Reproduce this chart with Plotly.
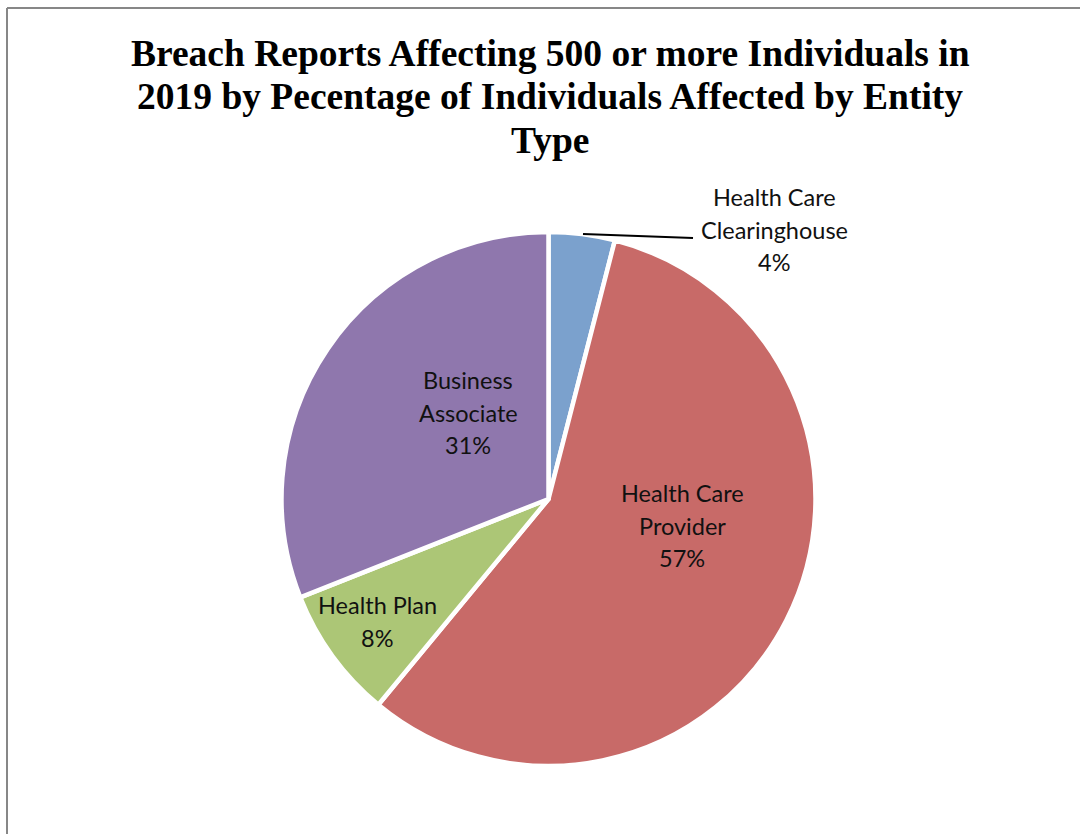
import plotly.graph_objects as go

# Share of individuals affected, by entity type (clockwise from 12 o'clock)
entity_types = ["Health Care Clearinghouse", "Health Care Provider", "Health Plan", "Business Associate"]
percent_affected = [4, 57, 8, 31]
slice_colors = ["#7BA1CD", "#C86A68", "#ACC676", "#8F77AD"]

# Label text lines for each slice
label_lines = {
    "Health Care Clearinghouse": ["Health Care", "Clearinghouse"],
    "Health Care Provider": ["Health Care", "Provider"],
    "Health Plan": ["Health Plan"],
    "Business Associate": ["Business", "Associate"],
}

W, H = 1080, 834


def px(x):
    return x / W


def py(y):
    return 1 - y / H


fig = go.Figure()

# Pie geometry in pixels
cx, cy, r = 548.5, 499.0, 267.0
fig.add_trace(go.Pie(
    labels=entity_types,
    values=percent_affected,
    sort=False,
    direction="clockwise",
    rotation=0,
    marker=dict(colors=slice_colors, line=dict(color="white", width=4.5)),
    textinfo="none",
    hoverinfo="label+percent",
    showlegend=False,
    domain=dict(x=[px(cx - r), px(cx + r)], y=[py(cy + r), py(cy - r)]),
))

# Label anchor points (centre of first line, pixels) and line spacing
label_pos = {
    "Health Care Clearinghouse": (774, 197),
    "Health Care Provider": (682, 493),
    "Health Plan": (377, 605),
    "Business Associate": (468, 380),
}
line_gap = 32.5
label_font = dict(family="Lato, Carlito, Calibri, sans-serif", size=23.5, color="#111111")

annotations = []
for name, val in zip(entity_types, percent_affected):
    x0, y0 = label_pos[name]
    lines = label_lines[name] + [f"{val}%"]
    for i, line in enumerate(lines):
        annotations.append(dict(
            x=px(x0), y=py(y0 + i * line_gap), xref="paper", yref="paper",
            text=line, showarrow=False, font=label_font,
            xanchor="center", yanchor="middle",
        ))

# Title lines
title_lines = [
    "Breach Reports Affecting 500 or more Individuals in",
    "2019 by Pecentage of Individuals Affected by Entity",
    "Type",
]
title_y = [53, 97, 140]
for t, yy in zip(title_lines, title_y):
    annotations.append(dict(
        x=px(550), y=py(yy), xref="paper", yref="paper", text=f"<b>{t}</b>",
        showarrow=False, xanchor="center", yanchor="middle",
        font=dict(family="Liberation Serif, Times New Roman, serif", size=37.5, color="black"),
    ))

shapes = [
    # Chart frame (top and left edges)
    dict(type="line", xref="paper", yref="paper", x0=px(7), y0=py(8), x1=1, y1=py(8),
         line=dict(color="#878787", width=2)),
    dict(type="line", xref="paper", yref="paper", x0=px(7), y0=py(8), x1=px(7), y1=0,
         line=dict(color="#878787", width=2)),
    # Leader line for the small clearinghouse slice
    dict(type="line", xref="paper", yref="paper", x0=px(583), y0=py(234), x1=px(693), y1=py(238),
         line=dict(color="black", width=2)),
]

fig.update_layout(
    width=W, height=H,
    margin=dict(l=0, r=0, t=0, b=0),
    paper_bgcolor="white",
    plot_bgcolor="white",
    annotations=annotations,
    shapes=shapes,
)

fig.write_html("out.html")
